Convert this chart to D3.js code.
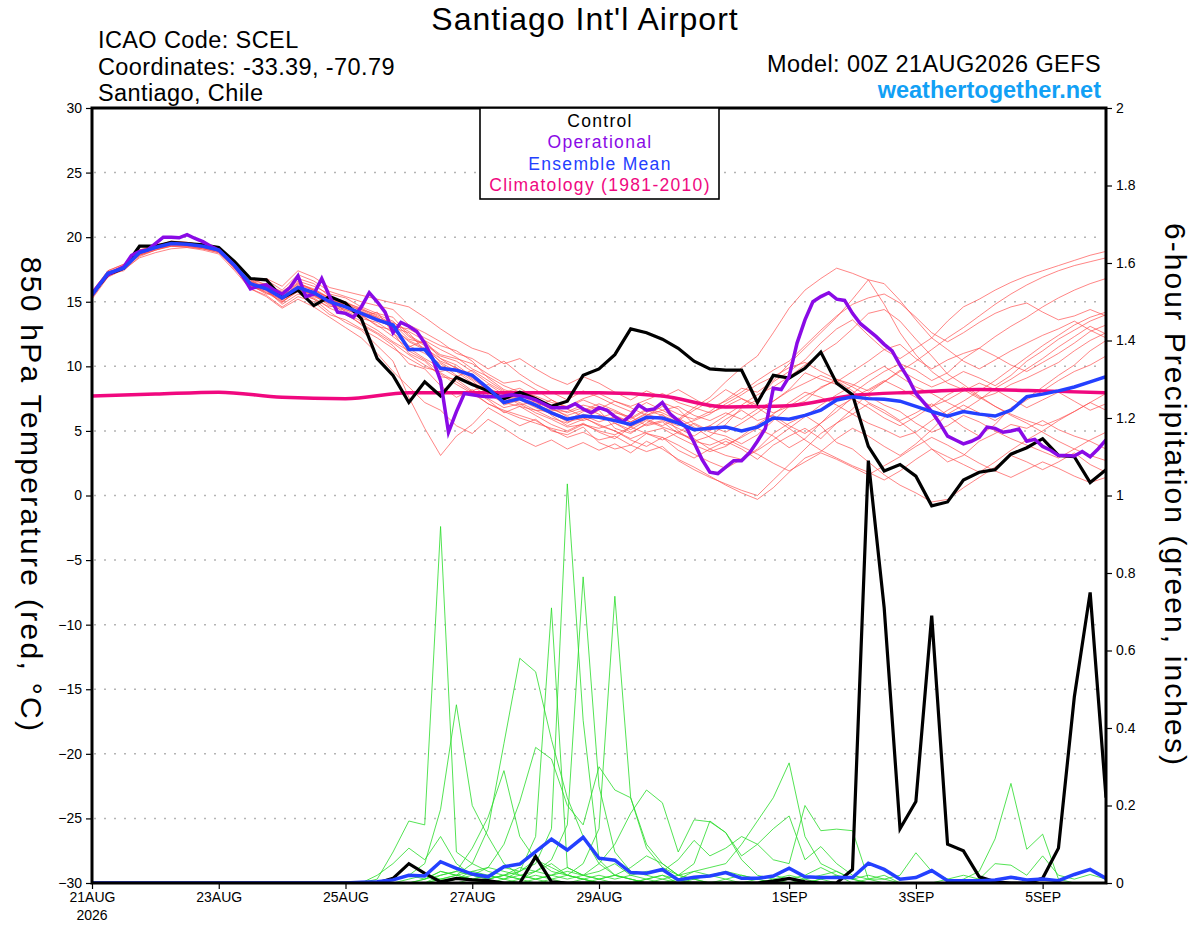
<!DOCTYPE html>
<html>
<head>
<meta charset="utf-8">
<script src="https://cdn.jsdelivr.net/npm/d3@7"></script>
<style>
  body { margin: 0; background: #fff; }
  text { font-family: "Liberation Sans", Arial, sans-serif; }
</style>
</head>
<body>
<svg id="chart" width="1200" height="927"></svg>
<script>
// 6-hourly steps from 00Z 21AUG2026 (step 0) to 00Z 6SEP (step 64)
var dayLabels = ['21AUG', '23AUG', '25AUG', '27AUG', '29AUG', '1SEP', '3SEP', '5SEP'];
var dayTicks = [0, 8, 16, 24, 32, 44, 52, 60];
var tempTicks = [-30, -25, -20, -15, -10, -5, 0, 5, 10, 15, 20, 25, 30];
var precipTicks = [0, 0.2, 0.4, 0.6, 0.8, 1, 1.2, 1.4, 1.6, 1.8, 2];

// 850 hPa temperature, deg C
var tempCtrl = [15.6,17.1,17.6,19.3,19.3,19.6,19.5,19.4,19.2,18.1,16.8,16.7,15.3,15.9,14.7,15.4,14.9,13.7,10.6,9.3,
  7.2,8.8,7.7,9.15,8.6,8.1,7.5,8.0,7.5,6.9,7.3,9.3,9.8,10.9,12.9,12.6,12.1,11.4,10.4,9.8,
  9.7,9.7,7.2,9.3,9.1,9.85,11.1,8.7,7.8,3.8,1.9,2.4,1.5,-0.8,-0.5,1.2,1.8,2.0,3.2,3.7,
  4.4,3.1,3.0,1.0,2.0];
var tempMean = [15.5,17.2,17.6,18.8,19.2,19.5,19.45,19.3,19.0,17.8,16.4,16.0,15.3,16.1,15.7,15.0,14.6,14.1,13.6,13.2,
  11.3,11.3,9.85,9.7,9.3,8.3,7.2,7.5,7.0,6.4,5.9,6.15,6.05,5.8,5.5,6.05,6.0,5.6,5.1,5.2,
  5.3,5.0,5.3,6.0,5.9,6.2,6.6,7.4,7.65,7.5,7.45,7.3,6.9,6.5,6.15,6.5,6.3,6.15,6.6,7.65,
  7.85,8.1,8.4,8.8,9.2];
// operational run is 3-hourly
var tempOper = [15.6,16.4,17.1,17.4,17.7,18.6,18.9,19.0,19.5,20.0,20.0,19.95,20.2,19.9,19.65,19.3,19.0,18.4,17.8,17.0,
  16.0,16.2,16.3,15.9,15.6,16.1,17.0,15.4,15.6,16.8,15.4,14.2,14.1,13.8,14.6,15.7,15.0,14.2,12.6,13.4,
  13.1,12.7,11.8,10.6,8.9,4.9,6.5,7.9,7.8,7.7,7.65,7.65,7.7,7.8,7.7,7.6,7.4,7.1,6.8,6.8,
  6.8,7.1,6.7,6.4,6.8,6.6,6.1,5.7,6.2,7.0,6.6,6.7,7.2,6.3,5.8,5.3,4.1,2.8,1.8,1.7,
  2.2,2.7,2.7,3.3,4.2,5.2,8.3,8.2,9.2,11.8,13.6,15.0,15.4,15.7,15.2,15.1,14.1,13.3,12.8,12.3,
  11.7,11.2,10.1,9.1,7.9,7.2,6.5,5.6,4.6,4.3,4.0,4.2,4.5,5.3,5.2,4.9,5.0,5.15,4.2,4.35,
  3.8,3.5,3.1,3.1,3.06,3.4,3.0,3.6,4.3];
// climatology, one value per day
var tempClim = [7.7,7.85,8.0,7.6,7.5,7.95,7.95,7.95,7.95,7.7,6.85,6.95,7.75,8.0,8.2,8.1,7.95];

var tempMembers = [
  [15.3,17.0,17.8,18.6,19.0,19.3,19.3,19.1,18.8,17.6, 16.0,16.4,15.0,15.8,15.2,14.6,14.9,13.8,14.2,12.6,
   11.0,10.4,9.2,9.0,8.1,8.6,7.8,7.0,7.3,6.2, 5.4,5.9,6.6,5.2,4.8,5.6,6.3,5.0,4.2,4.6,
   5.5,6.8,7.4,8.8,9.6,10.5,11.8,12.9,13.6,12.4, 11.3,10.6,11.4,12.2,13.5,14.6,15.2,15.9,16.5,17.0,
   17.4,17.8,18.2,18.6,18.9],
  [15.6,17.3,17.5,18.9,19.4,19.6,19.6,19.4,19.1,17.9, 16.3,15.6,15.6,16.4,16.0,15.3,14.2,13.2,12.5,11.6,
   10.2,9.8,8.5,7.6,8.2,7.4,6.4,6.9,6.2,5.5, 5.0,5.6,4.9,4.4,5.3,6.2,6.6,5.9,6.8,7.6,
   8.8,9.9,10.8,12.6,14.5,15.9,16.8,17.6,17.2,16.7, 14.8,12.6,10.9,9.6,8.7,8.2,7.5,7.9,8.6,9.1,
   9.7,10.3,11.2,12.0,12.6],
  [15.4,17.1,17.4,18.5,19.0,19.3,19.2,19.1,18.9,17.7, 16.2,15.9,14.8,15.6,15.2,14.2,13.4,12.8,11.6,10.4,
   7.6,5.2,3.1,4.6,5.5,6.8,6.1,5.4,5.9,5.0, 4.7,5.3,4.1,3.6,3.9,4.8,4.5,3.5,2.9,3.6,
   4.2,3.6,2.8,3.9,4.6,5.2,4.4,5.6,6.3,7.1, 6.4,5.7,4.8,3.6,2.6,3.1,4.2,4.8,5.5,5.2,
   5.8,5.1,4.6,4.2,3.6],
  [15.8,17.4,17.9,19.0,19.3,19.7,19.6,19.3,18.9,17.5, 16.6,16.1,15.6,16.5,15.9,15.3,14.7,14.4,13.8,12.9,
   12.0,11.4,10.6,10.1,9.2,8.0,7.6,7.2,6.6,6.0, 5.6,6.3,6.0,6.4,6.1,5.4,5.7,4.8,4.4,3.6,
   3.1,2.8,3.6,4.8,5.6,6.2,5.4,4.1,3.6,2.6, 1.6,0.8,0.2,-0.5,-0.3,0.6,1.4,2.2,3.1,2.6,
   2.0,2.6,3.3,2.4,1.8],
  [15.5,17.2,17.7,18.7,19.1,19.4,19.5,19.3,19.1,17.9, 16.5,16.7,15.9,17.1,16.6,15.8,15.4,15.0,14.7,14.4,
   13.2,12.6,11.9,11.0,10.6,9.8,10.4,9.4,8.6,8.0, 7.4,8.1,7.6,7.0,6.5,7.2,6.6,6.9,6.2,5.8,
   6.4,5.9,6.7,7.3,8.2,9.5,9.0,8.6,7.9,8.8, 9.6,10.2,9.7,8.9,9.5,10.6,11.4,12.3,13.1,13.8,
   14.6,15.3,15.9,16.4,16.8],
  [15.2,16.9,17.5,18.4,18.8,19.1,19.2,19.0,18.7,17.4, 16.0,15.5,14.6,15.4,15.0,14.0,13.6,12.9,12.2,11.4,
   10.6,9.9,9.6,9.9,9.0,8.2,7.0,7.4,6.8,6.3, 5.8,6.5,6.9,6.2,5.7,6.4,7.2,6.7,5.5,4.9,
   4.6,4.0,4.7,5.8,6.9,7.3,8.4,8.9,8.1,7.2, 6.6,5.8,6.4,7.1,6.2,5.3,4.6,5.5,6.8,7.5,
   8.4,9.3,10.1,11.2,12.0],
  [15.7,17.3,17.6,18.9,19.2,19.5,19.4,19.2,18.9,17.8, 16.8,16.3,15.8,16.6,16.2,15.6,15.3,14.6,14.1,13.8,
   12.4,11.7,10.8,10.4,9.6,8.7,8.0,8.3,7.6,6.9, 6.4,6.8,6.3,5.6,5.1,5.8,5.3,4.9,5.6,5.0,
   5.9,6.6,5.8,6.2,5.4,4.8,5.6,6.5,7.6,8.2, 8.9,8.3,7.6,6.9,7.4,8.1,8.7,8.2,7.5,6.8,
   7.4,8.0,7.3,6.6,7.1],
  [15.6,17.1,17.7,18.8,19.3,19.6,19.5,19.4,19.1,17.7, 16.2,15.8,15.1,15.9,15.6,14.8,14.4,14.0,13.1,12.8,
   11.6,11.0,10.2,9.3,8.6,7.5,6.8,7.1,6.4,5.9, 5.3,5.5,5.2,5.6,4.9,5.5,5.8,5.2,4.6,5.4,
   6.2,7.0,7.8,8.4,9.2,10.1,11.0,11.8,12.9,14.1, 14.4,13.5,12.1,10.8,9.4,8.6,7.7,6.9,6.3,5.8,
   5.4,5.9,6.5,7.2,7.9],
  [15.4,17.0,17.5,18.6,19.0,19.4,19.4,19.2,19.0,17.8, 16.4,15.7,15.2,16.0,15.4,14.9,14.1,13.5,12.8,11.9,
   11.2,10.5,9.5,8.8,8.0,7.1,6.6,6.2,5.8,5.1, 4.5,4.9,4.3,4.6,3.9,3.4,3.8,2.7,2.0,1.4,
   0.9,0.4,0.0,1.2,2.4,3.6,4.8,5.6,6.7,7.9, 8.8,9.7,9.0,8.4,8.9,9.6,9.1,8.5,9.3,10.4,
   11.2,12.1,12.8,13.5,14.0],
  [15.6,17.2,17.8,18.7,19.2,19.5,19.4,19.3,19.0,17.6, 16.1,16.0,15.4,16.2,15.8,15.1,14.9,14.5,13.9,13.3,
   12.1,11.8,10.9,10.6,10.2,9.4,8.7,8.9,8.2,7.4, 6.8,7.4,6.9,6.5,5.9,6.6,6.2,5.7,5.0,5.4,
   4.9,5.6,6.4,7.3,8.1,8.7,9.3,8.8,9.6,10.4, 11.3,11.7,10.6,9.8,10.5,11.0,11.4,10.8,10.1,9.6,
   10.3,11.0,11.8,12.7,13.2],
  [15.3,17.1,17.6,18.8,19.3,19.4,19.3,19.1,18.8,17.9, 16.4,15.9,14.9,16.1,15.5,14.7,14.3,13.7,13.4,12.6,
   11.5,12.0,10.6,9.8,9.4,8.4,7.3,7.7,7.4,6.8, 6.1,5.8,6.2,5.9,5.3,5.9,5.4,6.0,5.3,4.5,
   3.9,4.5,5.2,4.6,3.7,4.4,5.6,6.8,7.5,6.8, 6.0,5.4,6.1,6.9,7.8,8.4,7.6,6.9,6.2,5.6,
   4.9,4.2,3.6,3.1,2.7],
  [15.5,17.3,17.6,18.9,19.3,19.6,19.5,19.3,18.9,17.6, 16.3,16.2,15.3,16.3,15.9,15.2,14.6,14.2,13.8,13.0,
   12.6,11.2,10.0,9.7,8.9,7.8,7.2,6.9,6.6,6.5, 6.0,6.2,5.7,6.1,5.7,6.3,5.9,5.4,5.8,6.3,
   7.1,7.8,8.6,9.2,9.9,10.3,9.6,9.0,8.4,7.7, 7.0,6.5,5.6,4.9,5.4,6.2,5.7,5.0,4.4,3.9,
   3.4,2.9,3.6,4.3,4.9],
  [15.4,17.0,17.6,18.6,19.1,19.3,19.3,19.2,19.0,18.0, 16.7,16.0,15.6,16.0,15.5,15.0,14.8,14.0,13.5,13.1,
   12.9,12.2,11.6,11.2,10.4,9.1,8.2,7.8,7.1,6.4, 5.7,6.0,5.5,5.0,4.4,4.9,5.2,4.5,3.9,3.4,
   3.8,4.6,5.5,6.3,7.2,8.0,7.6,7.0,6.3,5.6, 5.1,4.5,4.9,5.8,6.6,7.3,8.1,8.9,9.8,10.7,
   11.6,12.4,13.2,13.8,14.2],
  [15.7,17.4,17.9,19.0,19.4,19.6,19.6,19.4,19.2,18.0, 16.5,16.4,15.7,16.8,16.4,15.4,15.0,14.4,14.0,13.5,
   12.3,11.6,10.3,9.6,8.7,8.2,7.4,8.0,7.2,6.7, 6.2,6.6,7.1,6.6,6.0,6.7,6.4,5.8,6.6,7.3,
   8.2,7.5,6.8,6.0,5.2,4.3,3.5,2.9,2.3,1.8, 1.2,1.9,2.8,3.6,3.0,2.4,1.8,2.6,3.5,4.3,
   5.0,5.8,6.5,7.2,6.6],
  [15.5,17.1,17.7,18.8,19.2,19.5,19.5,19.3,19.0,17.8, 16.6,16.8,16.2,17.4,16.9,16.1,15.8,15.5,15.2,14.9,
   14.6,13.8,12.9,12.1,11.4,11.0,10.2,10.6,9.8,9.1, 8.6,9.2,8.7,8.0,7.4,8.1,7.6,8.2,7.5,6.8,
   7.3,8.0,8.9,9.7,10.4,11.6,12.8,13.9,14.8,15.3, 15.6,14.9,13.8,12.6,11.9,12.6,13.4,14.1,14.6,14.9,
   14.2,13.6,13.9,14.4,13.9],
  [15.5,17.2,17.6,18.7,19.1,19.5,19.4,19.3,18.9,17.7, 16.0,15.4,14.5,15.2,14.6,13.8,13.0,12.2,11.0,9.6,
   8.4,7.2,6.6,5.4,4.8,5.9,5.2,4.4,3.8,4.3, 3.6,4.1,3.5,4.0,3.3,4.2,3.6,2.8,2.2,1.5,
   0.8,0.2,-0.3,0.6,1.8,2.9,3.4,4.4,5.2,4.6, 3.8,3.1,4.0,5.1,6.3,7.0,6.4,5.8,6.6,7.4,
   8.1,8.9,9.6,10.1,10.8],
  [15.4,17.0,17.7,18.7,19.1,19.4,19.4,19.2,18.9,17.8, 16.3,16.0,15.5,16.2,15.7,15.2,14.7,14.2,13.6,13.0,
   11.9,11.3,10.4,9.9,9.1,8.3,7.8,7.4,7.0,6.6, 6.5,7.0,6.7,7.3,6.8,6.2,6.9,6.3,5.9,6.5,
   7.4,8.3,8.0,8.9,10.2,11.4,12.6,13.8,15.2,16.7, 16.4,15.1,13.6,12.2,11.3,10.4,9.8,10.5,11.2,11.8,
   12.4,12.9,13.5,12.8,12.2],
  [15.6,17.3,17.8,18.9,19.3,19.6,19.5,19.4,19.0,17.7, 16.4,15.9,15.2,16.1,15.5,14.9,14.4,13.9,13.2,12.3,
   11.4,10.6,9.9,9.2,9.7,8.9,8.1,7.5,6.9,7.4, 6.7,6.1,5.4,5.0,4.3,3.8,4.5,3.9,3.2,2.6,
   2.1,2.8,3.5,4.3,5.2,6.1,7.0,7.8,8.5,9.3, 10.0,9.2,8.4,7.9,7.2,6.6,7.4,8.3,9.0,9.8,
   10.6,11.5,12.3,13.1,12.5],
  [15.4,17.1,17.6,18.7,19.2,19.5,19.4,19.2,19.0,17.9, 16.5,16.1,15.3,16.4,15.9,15.3,14.9,14.3,13.7,13.4,
   12.7,12.0,11.3,10.7,9.8,9.2,8.5,8.0,7.7,7.2, 6.9,7.5,7.9,7.3,6.9,7.4,7.9,7.2,6.8,6.4,
   6.9,7.5,7.0,6.4,6.9,7.7,8.3,9.0,8.6,8.1, 8.8,9.6,10.4,11.3,12.2,13.0,13.9,14.8,15.6,16.3,
   16.9,17.4,17.8,18.1,18.4],
  [15.6,17.2,17.7,18.8,19.2,19.5,19.5,19.3,19.0,17.8, 16.2,15.7,15.0,15.8,15.3,14.5,14.0,13.3,12.6,11.8,
   10.9,10.1,9.4,8.6,7.9,7.1,6.5,6.0,5.6,5.2, 4.9,5.5,5.0,4.7,5.3,4.8,4.3,4.9,4.2,3.9,
   4.4,3.8,3.2,2.5,1.9,2.6,3.3,2.8,2.2,1.6, 2.3,3.0,3.8,4.5,3.9,3.2,2.5,1.9,1.4,2.0,
   2.6,2.1,1.5,1.0,1.4]
];

// 6-hour precipitation, inches
var precipCtrl = [0,0,0,0,0,0,0,0,0,0, 0,0,0,0,0,0,0,0,0,0.012,
  0.05,0.025,0.003,0.012,0.008,0.006,0,0,0.068,0.003, 0,0,0,0,0,0,0,0,0,0,
  0,0,0,0.005,0.012,0.003,0,0,0.035,1.09, 0.71,0.14,0.21,0.69,0.10,0.083,0.016,0.003,0,0,
  0.012,0.09,0.48,0.75,0.22];
var precipMean = [0,0,0,0,0,0,0,0,0,0, 0,0,0,0,0,0,0,0.002,0.003,0.008,
  0.02,0.018,0.055,0.038,0.023,0.016,0.042,0.049,0.081,0.113, 0.085,0.118,0.064,0.059,0.027,0.025,0.035,0.008,0.015,0.018,
  0.027,0.012,0.012,0.018,0.038,0.016,0.014,0.014,0.014,0.051, 0.035,0.01,0.014,0.032,0.006,0.006,0.006,0.008,0.015,0.008,
  0.01,0.006,0.022,0.035,0.012];

var precipMembers = [
  [0,0,0,0,0,0,0,0,0,0,0,0,0,0,0,0,0, 0,0.01,0.08,
   0.16,0.15,0.92,0.08,0.05,0.03,0.02,0.01,0.03,0.05, 0.02,0.01,0,0,0,0.01,0.02,0,0,0,
   0,0,0,0.01,0.02,0.01,0,0,0,0, 0,0,0,0,0,0,0,0,0,0, 0,0,0,0,0],
  [0,0,0,0,0,0,0,0,0,0,0,0,0,0,0,0,0, 0,0,0.01,
   0.02,0.05,0.19,0.46,0.20,0.12,0.05,0.02,0.01,0.02, 0.04,0.02,0.01,0,0,0,0,0.01,0.03,0.02,
   0.01,0,0,0,0,0,0,0,0,0.01, 0.02,0,0,0,0,0,0,0,0,0, 0,0,0,0,0],
  [0,0,0,0,0,0,0,0,0,0,0,0,0,0,0,0,0, 0,0,0,
   0.01,0.02,0.01,0.02,0.05,0.14,0.36,0.58,0.545,0.37, 0.22,0.12,0.05,0.02,0.01,0,0,0,0,0,
   0,0,0.01,0.02,0.01,0,0,0,0,0, 0,0,0,0,0,0,0,0,0,0, 0,0,0,0,0],
  [0,0,0,0,0,0,0,0,0,0,0,0,0,0,0,0,0, 0,0,0,
   0,0.01,0.03,0.02,0.01,0.02,0.04,0.03,0.05,0.14, 1.03,0.42,0.06,0.02,0.01,0,0,0,0,0,
   0.01,0.02,0.01,0,0,0,0.01,0,0,0, 0,0,0,0,0,0,0,0,0,0, 0,0,0,0,0],
  [0,0,0,0,0,0,0,0,0,0,0,0,0,0,0,0,0, 0,0,0,
   0,0,0.02,0.03,0.02,0.01,0.02,0.03,0.12,0.71, 0.04,0.02,0.03,0.05,0.02,0.01,0,0,0,0,
   0,0,0,0,0.01,0.02,0.04,0.02,0,0, 0,0,0,0,0,0,0,0,0,0, 0,0,0,0,0],
  [0,0,0,0,0,0,0,0,0,0,0,0,0,0,0,0,0, 0,0,0,
   0,0,0.01,0.01,0.02,0.04,0.03,0.02,0.03,0.06, 0.15,0.79,0.25,0.08,0.03,0.02,0.01,0,0,0,
   0,0,0,0,0,0,0,0,0,0, 0,0,0,0,0.01,0.02,0.01,0,0,0, 0,0,0,0,0],
  [0,0,0,0,0,0,0,0,0,0,0,0,0,0,0,0,0, 0,0,0,
   0,0,0,0.01,0.03,0.02,0.01,0.03,0.06,0.04, 0.02,0.05,0.14,0.74,0.22,0.09,0.04,0.02,0.01,0,
   0,0,0,0,0,0,0,0,0,0, 0,0,0,0,0,0,0,0,0,0, 0,0,0,0,0],
  [0,0,0,0,0,0,0,0,0,0,0,0,0,0,0,0,0, 0,0,0.01,
   0.02,0.01,0.03,0.02,0.03,0.04,0.10,0.21,0.35,0.32, 0.20,0.15,0.30,0.24,0.22,0.10,0.05,0.02,0.01,0,
   0,0,0,0,0,0,0,0,0,0, 0,0,0,0,0,0,0,0,0,0, 0,0,0,0,0],
  [0,0,0,0,0,0,0,0,0,0,0,0,0,0,0,0,0, 0,0,0,
   0,0.01,0.02,0.03,0.09,0.17,0.29,0.12,0.06,0.03, 0.02,0.01,0,0,0,0,0.01,0.02,0.03,0.04,
   0.05,0.10,0.16,0.22,0.31,0.12,0.05,0.03,0.01,0, 0,0,0,0,0,0,0,0,0,0, 0,0,0,0,0],
  [0,0,0,0,0,0,0,0,0,0,0,0,0,0,0,0,0, 0,0.02,0.05,
   0.09,0.06,0.12,0.05,0.02,0.01,0.02,0.04,0.03,0.02, 0.01,0.02,0.05,0.10,0.18,0.24,0.207,0.08,0.163,0.158,
   0.13,0.06,0.02,0.01,0,0,0,0,0,0, 0,0,0,0,0,0,0,0,0,0, 0,0,0,0,0],
  [0,0,0,0,0,0,0,0,0,0,0,0,0,0,0,0,0, 0,0,0,
   0,0,0.01,0.02,0.01,0,0.01,0.02,0.01,0, 0,0.01,0.02,0.01,0.02,0.03,0.03,0.06,0.11,0.07,
   0.09,0.12,0.10,0.06,0.05,0.20,0.135,0.139,0.135,0.01, 0.01,0,0,0,0,0,0,0,0,0, 0,0,0,0,0],
  [0,0,0,0,0,0,0,0,0,0,0,0,0,0,0,0,0, 0,0,0,
   0,0,0,0,0.01,0.02,0.01,0,0.01,0.02, 0.03,0.02,0.01,0.02,0.04,0.07,0.05,0.02,0.05,0.16,
   0.13,0.07,0.10,0.14,0.173,0.06,0.094,0.05,0.02,0.01, 0,0,0,0,0,0,0,0,0,0, 0,0,0,0,0],
  [0,0,0,0,0,0,0,0,0,0,0,0,0,0,0,0,0, 0,0,0,
   0,0,0,0,0,0,0,0.01,0.02,0.01, 0,0,0.01,0.02,0.01,0,0,0,0.01,0.02,
   0.03,0.02,0.01,0,0,0,0.01,0.02,0.01,0, 0,0,0,0,0,0.01,0.03,0.114,0.257,0.087, 0.126,0.01,0,0,0],
  [0,0,0,0,0,0,0,0,0,0,0,0,0,0,0,0,0, 0,0,0,
   0,0,0,0,0,0.01,0.02,0.01,0,0.01, 0.02,0.01,0,0,0,0.01,0.02,0.01,0,0,
   0,0,0,0,0,0.01,0.02,0.03,0.01,0.02, 0.01,0.02,0.078,0.03,0.01,0,0.01,0.05,0.046,0.02, 0.07,0.02,0.01,0.022,0.01]
];

var svg = d3.select('#chart');
var pLeft = 92, pRight = 1106, pTop = 108, pBottom = 883;

var x = d3.scaleLinear().domain([0, 64]).range([pLeft, pRight]);
var yT = d3.scaleLinear().domain([-30, 30]).range([pBottom, pTop]);
var yP = d3.scaleLinear().domain([0, 2]).range([pBottom, pTop]);

svg.append('defs').append('clipPath')
    .attr('id', 'plotClip')
  .append('rect')
    .attr('x', pLeft).attr('y', pTop - 2)
    .attr('width', pRight - pLeft).attr('height', pBottom - pTop + 2);

// dotted grid from the temperature axis
svg.append('g').selectAll('line')
  .data(tempTicks.filter(function(d) { return d > -30 && d < 30; }))
  .enter().append('line')
    .attr('x1', pLeft + 2).attr('x2', pRight - 2)
    .attr('y1', function(d) { return yT(d); })
    .attr('y2', function(d) { return yT(d); })
    .attr('stroke', '#b4b4b4')
    .attr('stroke-width', 1.5)
    .attr('stroke-dasharray', '2,8');

var plot = svg.append('g').attr('clip-path', 'url(#plotClip)');

var tLine = d3.line().x(function(d, i) { return x(i); }).y(function(d) { return yT(d); });
var pLine = d3.line().x(function(d, i) { return x(i); }).y(function(d) { return yP(d); });
var operLine = d3.line().x(function(d, i) { return x(i / 2); }).y(function(d) { return yT(d); });
var climLine = d3.line().x(function(d, i) { return x(i * 4); }).y(function(d) { return yT(d); })
    .curve(d3.curveMonotoneX);

plot.selectAll('.tmem').data(tempMembers).enter().append('path')
    .attr('class', 'tmem')
    .attr('d', tLine)
    .attr('fill', 'none')
    .attr('stroke', '#ff4a4a')
    .attr('stroke-opacity', 0.85)
    .attr('stroke-width', 0.8);

plot.selectAll('.pmem').data(precipMembers).enter().append('path')
    .attr('class', 'pmem')
    .attr('d', pLine)
    .attr('fill', 'none')
    .attr('stroke', '#28dc28')
    .attr('stroke-width', 0.8);

plot.append('path').datum(tempClim)
    .attr('d', climLine).attr('fill', 'none')
    .attr('stroke', '#f0087f').attr('stroke-width', 3.5);

plot.append('path').datum(precipCtrl)
    .attr('d', pLine).attr('fill', 'none')
    .attr('stroke', '#000').attr('stroke-width', 3.2);

plot.append('path').datum(precipMean)
    .attr('d', pLine).attr('fill', 'none')
    .attr('stroke', '#2440ff').attr('stroke-width', 3.5);

plot.append('path').datum(tempCtrl)
    .attr('d', tLine).attr('fill', 'none')
    .attr('stroke', '#000').attr('stroke-width', 3.2);

plot.append('path').datum(tempOper)
    .attr('d', operLine).attr('fill', 'none')
    .attr('stroke', '#8a0ae6').attr('stroke-width', 3.5);

plot.append('path').datum(tempMean)
    .attr('d', tLine).attr('fill', 'none')
    .attr('stroke', '#2440ff').attr('stroke-width', 3.5);

// axes
var axisLeft = d3.axisLeft(yT).tickValues(tempTicks).tickSize(6).tickPadding(4);
var gl = svg.append('g').attr('transform', 'translate(' + pLeft + ',0)').call(axisLeft);

var axisRight = d3.axisRight(yP).tickValues(precipTicks).tickSize(6).tickPadding(4)
    .tickFormat(function(d) { return String(d); });
var gr = svg.append('g').attr('transform', 'translate(' + pRight + ',0)').call(axisRight);

var axisBottom = d3.axisBottom(x).tickValues(dayTicks).tickSize(6).tickPadding(3)
    .tickFormat(function(d, i) { return dayLabels[i]; });
var gb = svg.append('g').attr('transform', 'translate(0,' + pBottom + ')').call(axisBottom);

[gl, gr, gb].forEach(function(g) {
  g.select('.domain').remove();
  g.selectAll('text').style('font-family', '"Liberation Sans", Arial, sans-serif')
    .style('font-size', '14px').attr('fill', '#000');
  g.selectAll('line').attr('stroke', '#000').attr('stroke-width', 1.2);
});

svg.append('text')
    .attr('x', x(0)).attr('y', 920)
    .attr('text-anchor', 'middle')
    .style('font-size', '14px')
    .text('2026');

// frame
svg.append('rect')
    .attr('x', pLeft).attr('y', pTop)
    .attr('width', pRight - pLeft).attr('height', pBottom - pTop)
    .attr('fill', 'none').attr('stroke', '#000').attr('stroke-width', 3);

// legend
var legend = svg.append('g');
legend.append('rect')
    .attr('x', 480).attr('y', pTop)
    .attr('width', 239).attr('height', 91)
    .attr('fill', '#fff').attr('stroke', '#000').attr('stroke-width', 1.6);
var legendItems = [
  ['Control', '#000'],
  ['Operational', '#8a0ae6'],
  ['Ensemble Mean', '#2440ff'],
  ['Climatology (1981-2010)', '#f0087f']
];
legend.selectAll('text').data(legendItems).enter().append('text')
    .attr('x', 600)
    .attr('y', function(d, i) { return 127 + i * 21.4; })
    .attr('text-anchor', 'middle')
    .attr('fill', function(d) { return d[1]; })
    .style('font-size', '17.5px')
    .style('letter-spacing', '1.3px')
    .text(function(d) { return d[0]; });

// titles
svg.append('text')
    .attr('x', 585).attr('y', 30)
    .attr('text-anchor', 'middle')
    .style('font-size', '32px')
    .style('letter-spacing', '1px')
    .text("Santiago Int'l Airport");

var info = ['ICAO Code: SCEL', 'Coordinates: -33.39, -70.79', 'Santiago, Chile'];
svg.selectAll('.info').data(info).enter().append('text')
    .attr('class', 'info')
    .attr('x', 98)
    .attr('y', function(d, i) { return 48 + i * 26.5; })
    .style('font-size', '23.5px')
    .style('letter-spacing', '0.4px')
    .text(function(d) { return d; });

svg.append('text')
    .attr('x', 1101).attr('y', 72)
    .attr('text-anchor', 'end')
    .style('font-size', '23.5px')
    .style('letter-spacing', '0.4px')
    .text('Model: 00Z 21AUG2026 GEFS');

svg.append('text')
    .attr('x', 1101).attr('y', 98)
    .attr('text-anchor', 'end')
    .attr('fill', '#11a0f5')
    .style('font-size', '23.5px')
    .style('font-weight', 'bold')
    .text('weathertogether.net');

// axis titles, reading top to bottom
svg.append('text')
    .attr('transform', 'translate(21,495) rotate(90)')
    .attr('text-anchor', 'middle')
    .style('font-size', '30px')
    .style('letter-spacing', '2.3px')
    .text('850 hPa Temperature (red, \u00B0C)');

svg.append('text')
    .attr('transform', 'translate(1165,495) rotate(90)')
    .attr('text-anchor', 'middle')
    .style('font-size', '30px')
    .style('letter-spacing', '2.1px')
    .text('6-hour Precipitation (green, inches)');
</script>
</body>
</html>
